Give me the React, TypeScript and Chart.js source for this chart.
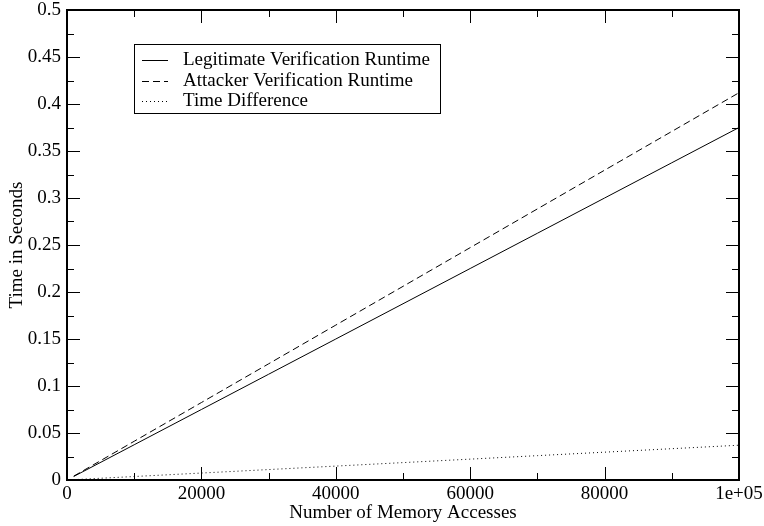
import React, { useEffect, useRef } from "react";
import { Chart, registerables } from "chart.js";

Chart.register(...registerables);

// ---- data ----
const memoryAccesses = [1000, 10000, 20000, 30000, 40000, 50000, 60000, 70000, 80000, 90000, 100000];
const legitimateRuntime = [0.00375, 0.0375, 0.075, 0.1125, 0.15, 0.1875, 0.225, 0.2625, 0.3, 0.3375, 0.375];
const attackerRuntime = [0.00412, 0.0412, 0.0824, 0.1236, 0.1648, 0.206, 0.2472, 0.2884, 0.3296, 0.3708, 0.412];
const timeDifference = [0.00037, 0.0037, 0.0074, 0.0111, 0.0148, 0.0185, 0.0222, 0.0259, 0.0296, 0.0333, 0.037];
const seriesLabels = ["Legitimate Verification Runtime", "Attacker Verification Runtime", "Time Difference"];
const xTitle = "Number of Memory Accesses";
const yTitle = "Time in Seconds";
const xMajorTicks = [0, 20000, 40000, 60000, 80000, 100000];
const xMinorTicks = [10000, 30000, 50000, 70000, 90000];
const yMajorTicks = [0, 0.05, 0.1, 0.15, 0.2, 0.25, 0.3, 0.35, 0.4, 0.45, 0.5];
const yMinorTicks = [0.025, 0.075, 0.125, 0.175, 0.225, 0.275, 0.325, 0.375, 0.425, 0.475];

const FONT = '"Liberation Serif", "DejaVu Serif", serif';

const gracePlugin = {
  id: "graceFrame",
  afterDraw(chart: any) {
    const ctx = chart.ctx as CanvasRenderingContext2D;
    const { left, right, top, bottom } = chart.chartArea;
    const xs = chart.scales.x;
    const ys = chart.scales.y;
    ctx.save();
    ctx.strokeStyle = "#000";
    ctx.lineWidth = 1;
    const MAJ = 13, MIN = 7;
    const vTick = (v: number, len: number) => {
      const px = Math.round(xs.getPixelForValue(v)) + 0.5;
      ctx.beginPath();
      ctx.moveTo(px, bottom); ctx.lineTo(px, bottom - len);
      ctx.moveTo(px, top); ctx.lineTo(px, top + len);
      ctx.stroke();
    };
    const hTick = (v: number, len: number) => {
      const py = Math.round(ys.getPixelForValue(v)) + 0.5;
      ctx.beginPath();
      ctx.moveTo(left, py); ctx.lineTo(left + len, py);
      ctx.moveTo(right, py); ctx.lineTo(right - len, py);
      ctx.stroke();
    };
    xMajorTicks.forEach((v) => vTick(v, MAJ));
    xMinorTicks.forEach((v) => vTick(v, MIN));
    yMajorTicks.forEach((v) => hTick(v, MAJ));
    yMinorTicks.forEach((v) => hTick(v, MIN));
    ctx.lineWidth = 2;
    ctx.strokeRect(left, top, right - left, bottom - top);

    ctx.fillStyle = "#000";
    ctx.font = `19px ${FONT}`;
    ctx.textAlign = "center";
    ctx.textBaseline = "middle";
    ctx.fillText(xTitle, (left + right) / 2, 513);
    ctx.save();
    ctx.translate(17, (top + bottom) / 2);
    ctx.rotate(-Math.PI / 2);
    ctx.fillText(yTitle, 0, 0);
    ctx.restore();

    const bx = 134, by = 44, bw = 306, bh = 69;
    ctx.fillStyle = "#fff";
    ctx.fillRect(bx, by, bw, bh);
    ctx.lineWidth = 1;
    ctx.strokeStyle = "#000";
    ctx.strokeRect(bx + 0.5, by + 0.5, bw, bh);
    const rows = [60, 81, 101];
    chart.data.datasets.forEach((ds: any, i: number) => {
      const y = rows[i] + 0.5;
      ctx.beginPath();
      ctx.setLineDash(ds.borderDash || []);
      ctx.lineWidth = 1;
      ctx.moveTo(142, y);
      ctx.lineTo(168, y);
      ctx.stroke();
      ctx.setLineDash([]);
      ctx.fillStyle = "#000";
      ctx.font = `19px ${FONT}`;
      ctx.textAlign = "left";
      ctx.textBaseline = "middle";
      ctx.fillText(ds.label, 183, rows[i]);
    });
    ctx.restore();
  },
};

export default function App() {
  const ref = useRef<HTMLCanvasElement | null>(null);
  useEffect(() => {
    if (!ref.current) return;
    const mk = (ys: number[]) => memoryAccesses.map((x, i) => ({ x, y: ys[i] }));
    const chart = new Chart(ref.current, {
      type: "line",
      data: {
        datasets: [
          { label: seriesLabels[0], data: mk(legitimateRuntime), borderColor: "#000", borderWidth: 1, pointRadius: 0, fill: false, borderDash: [] },
          { label: seriesLabels[1], data: mk(attackerRuntime), borderColor: "#000", borderWidth: 1, pointRadius: 0, fill: false, borderDash: [7, 4] },
          { label: seriesLabels[2], data: mk(timeDifference), borderColor: "#000", borderWidth: 1, pointRadius: 0, fill: false, borderDash: [1, 3] },
        ],
      },
      options: {
        animation: false,
        responsive: false,
        devicePixelRatio: 1,
        layout: { padding: { top: 10, right: 25, left: 0, bottom: 0 } },
        plugins: { legend: { display: false }, tooltip: { enabled: false } },
        scales: {
          x: {
            type: "linear",
            min: 0,
            max: 100000,
            afterFit: (s: any) => { s.height = 46; s.paddingLeft = 0; s.paddingRight = 0; },
            grid: { display: false, drawTicks: false },
            border: { display: false },
            ticks: {
              stepSize: 20000,
              padding: 3,
              maxRotation: 0,
              color: "#000",
              font: { family: FONT, size: 19 },
              callback: (v: any) => (Number(v) === 100000 ? "1e+05" : String(v)),
            },
          },
          y: {
            type: "linear",
            min: 0,
            max: 0.5,
            afterFit: (s: any) => { s.width = 67; s.paddingTop = 0; s.paddingBottom = 0; },
            grid: { display: false, drawTicks: false },
            border: { display: false },
            ticks: {
              stepSize: 0.05,
              padding: 6,
              color: "#000",
              font: { family: FONT, size: 19 },
              callback: (v: any) => String(Number(Number(v).toFixed(3))),
            },
          },
        },
      },
      plugins: [gracePlugin],
    } as any);
    return () => chart.destroy();
  }, []);
  return (
    <div style={{ position: "fixed", left: 0, top: 0, width: 764, height: 526, background: "#fff" }}>
      <canvas ref={ref} width={764} height={526} style={{ width: 764, height: 526, display: "block" }} />
    </div>
  );
}
